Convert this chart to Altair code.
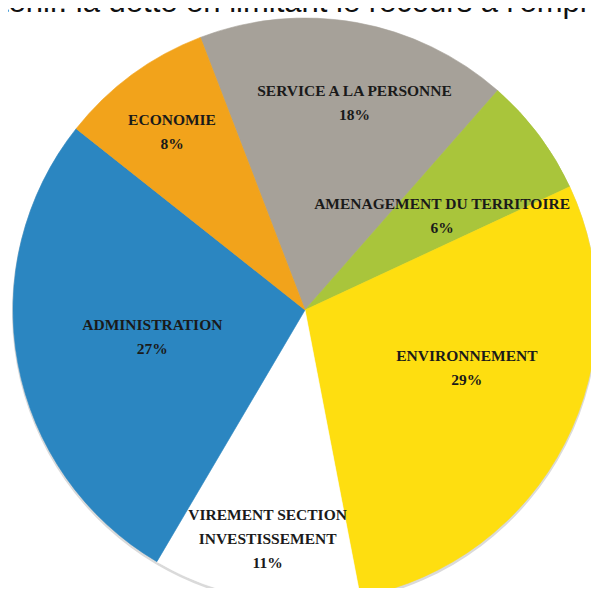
import math
import altair as alt
import pandas as pd

# ---- data ----
categories = [
    "SERVICE A LA PERSONNE",
    "AMENAGEMENT DU TERRITOIRE",
    "ENVIRONNEMENT",
    "VIREMENT SECTION INVESTISSEMENT",
    "ADMINISTRATION",
    "ECONOMIE",
]
label_lines = [
    ["SERVICE A LA PERSONNE"],
    ["AMENAGEMENT DU TERRITOIRE"],
    ["ENVIRONNEMENT"],
    ["VIREMENT SECTION", "INVESTISSEMENT"],
    ["ADMINISTRATION"],
    ["ECONOMIE"],
]
percent_labels = ["18%", "6%", "29%", "11%", "27%", "8%"]
shares = [17.3, 6.6, 28.9, 11.5, 27.2, 8.5]
header_text = "tenir. la dette en limitant le recours à l'emprunt"

# ---- styling / layout ----
colors = ["#A6A199", "#A9C53B", "#FEDE10", "#FFFFFF", "#2B86C1", "#F2A31B"]
label_radius = [213, 166, 172, 232, 155, 222]     # px from centre
label_turn = [3.3, 2.5, -7.3, -0.5, 0.6, -0.5]    # degrees nudge
start = math.radians(-21)
R = 292
CX, CY = 297, 302
LH = 24

df = pd.DataFrame({
    "cat": categories,
    "share": shares,
    "idx": list(range(len(categories))),
    "label": [lines + [p] for lines, p in zip(label_lines, percent_labels)],
    "nlines": [len(lines) + 1 for lines in label_lines],
    "lr": label_radius,
    "turn": label_turn,
})

theta = alt.Theta("share:Q", stack=True,
                  scale=alt.Scale(range=[start, start + 2 * math.pi]))
order = alt.Order("idx:O")
cscale = alt.Scale(domain=categories, range=colors)

base = alt.Chart(df)

shadow = base.mark_arc(radius=R + 1, color="#dadada").encode(
    theta=theta, order=order, x=alt.value(CX), y=alt.value(CY + 2)
)

pie = base.mark_arc(radius=R, strokeWidth=0.6).encode(
    theta=theta,
    order=order,
    color=alt.Color("cat:N", scale=cscale, legend=None),
    stroke=alt.Stroke("cat:N", scale=cscale, legend=None),
    x=alt.value(CX),
    y=alt.value(CY),
)

labels = base.transform_window(
    cum="sum(share)", sort=[alt.SortField("idx")],
    frame=[None, 0],
).transform_joinaggregate(
    total="sum(share)"
).transform_calculate(
    ang=f"{start} + (datum.cum - datum.share / 2) / datum.total * 2 * PI"
        " + datum.turn * PI / 180",
).transform_calculate(
    lx=f"{CX} + datum.lr * sin(datum.ang)",
    ly=f"{CY} - datum.lr * cos(datum.ang) - (datum.nlines - 1) * {LH} / 2",
).mark_text(
    font="Liberation Serif", fontWeight="bold", fontSize=15.5,
    lineHeight=LH, color="#1a1a1a", align="center", baseline="middle",
).encode(
    x=alt.X("lx:Q", scale=None),
    y=alt.Y("ly:Q", scale=None),
    text="label",
)

header = alt.Chart(pd.DataFrame({"t": [header_text]})).mark_text(
    font="Liberation Sans", fontSize=31, color="#111111",
    align="left", baseline="alphabetic",
).encode(text="t:N", x=alt.value(-8), y=alt.value(4))

chart = alt.layer(shadow, pie, labels, header).properties(
    width=583, height=580,
    autosize=alt.AutoSizeParams(type="none"),
    padding=0,
).configure_view(stroke=None)

chart.save("out.html", embed_options={"renderer": "svg", "actions": False})
